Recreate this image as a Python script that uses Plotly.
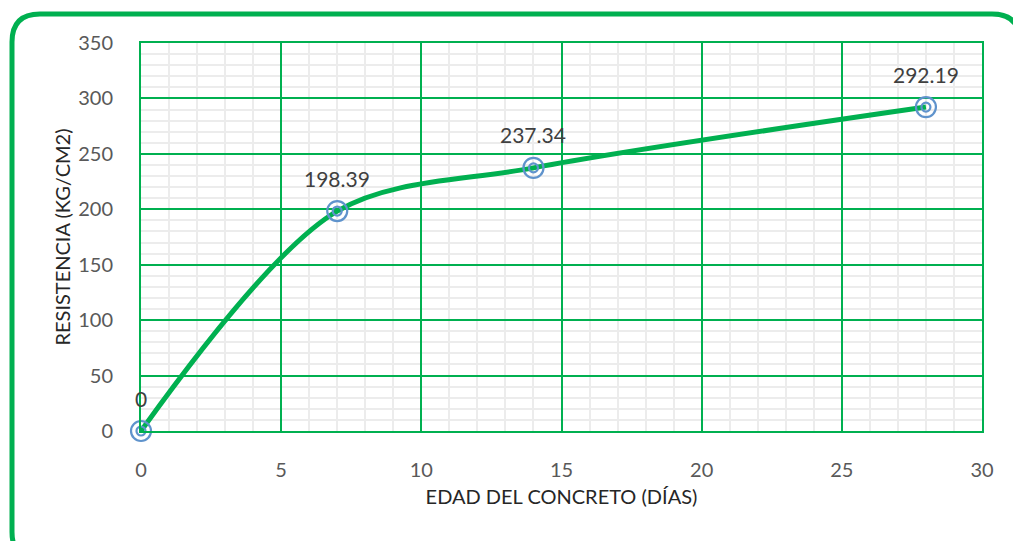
import plotly.graph_objects as go

# Concrete compressive strength vs. age
edad_dias = [0, 7, 14, 28]
resistencia = [0, 198.39, 237.34, 292.19]
etiquetas = ["0", "198.39", "237.34", "292.19"]

VERDE = "#00b050"
AZUL = "#5f93cc"
GRIS_TEXTO = "#595959"
FUENTE = "Lato, 'Open Sans', sans-serif"

W, H = 1013, 541
L, R, T, B = 141, 982, 43, 431  # plot area in pixels

fig = go.Figure()

fig.add_trace(go.Scatter(
    x=edad_dias, y=resistencia, mode="lines",
    line=dict(color=VERDE, width=5, shape="spline", smoothing=0.9),
    hoverinfo="skip", showlegend=False, cliponaxis=False,
))
# double-ring markers
fig.add_trace(go.Scatter(
    x=edad_dias, y=resistencia, mode="markers", cliponaxis=False,
    marker=dict(symbol="circle-open", size=20, color=AZUL, line=dict(width=2.2, color=AZUL)),
    showlegend=False,
))
fig.add_trace(go.Scatter(
    x=edad_dias, y=resistencia, mode="markers", cliponaxis=False,
    marker=dict(symbol="circle-open", size=9, color=AZUL, line=dict(width=2.2, color=AZUL)),
    showlegend=False,
))

for xv, yv, t in zip(edad_dias, resistencia, etiquetas):
    fig.add_annotation(x=xv, y=yv, text=t, showarrow=False, yshift=33,
                       font=dict(family=FUENTE, size=21, color="#404040"))

# rounded outer frame
def px(x):
    return (x - L) / (R - L)

def py(y):
    return (B - y) / (B - T)

x0, x1, y0, y1, r = 12, 1020, 14, 560, 28
path = (f"M {px(x0 + r)},{py(y0)} L {px(x1 - r)},{py(y0)} "
        f"Q {px(x1)},{py(y0)} {px(x1)},{py(y0 + r)} "
        f"L {px(x1)},{py(y1 - r)} Q {px(x1)},{py(y1)} {px(x1 - r)},{py(y1)} "
        f"L {px(x0 + r)},{py(y1)} Q {px(x0)},{py(y1)} {px(x0)},{py(y1 - r)} "
        f"L {px(x0)},{py(y0 + r)} Q {px(x0)},{py(y0)} {px(x0 + r)},{py(y0)} Z")
fig.add_shape(type="path", path=path, xref="paper", yref="paper",
              line=dict(color=VERDE, width=5), layer="above")

axis_common = dict(
    showgrid=True, gridcolor=VERDE, gridwidth=2,
    showline=True, linecolor=VERDE, linewidth=2,
    zeroline=False, ticks="",
    tickfont=dict(family=FUENTE, size=20, color=GRIS_TEXTO),
)

fig.update_xaxes(
    range=[0, 30], dtick=5, tick0=0, mirror=True,
    minor=dict(dtick=1, showgrid=True, gridcolor="#ececec", gridwidth=2),
    ticklabelstandoff=20,
    title=dict(text="EDAD DEL CONCRETO (DÍAS)", standoff=10,
               font=dict(family=FUENTE, size=20, color="#262626")),
    **axis_common,
)
fig.update_yaxes(
    range=[0, 350], dtick=50, tick0=0, mirror=True,
    minor=dict(dtick=10, showgrid=True, gridcolor="#ececec", gridwidth=2),
    ticklabelstandoff=22,
    title=dict(text="RESISTENCIA (KG/CM2)", standoff=2,
               font=dict(family=FUENTE, size=20, color="#262626")),
    **axis_common,
)

fig.update_layout(
    width=W, height=H,
    margin=dict(l=L, r=W - R, t=T, b=H - B),
    paper_bgcolor="white", plot_bgcolor="white",
    showlegend=False,
)

fig.write_html("out.html")
